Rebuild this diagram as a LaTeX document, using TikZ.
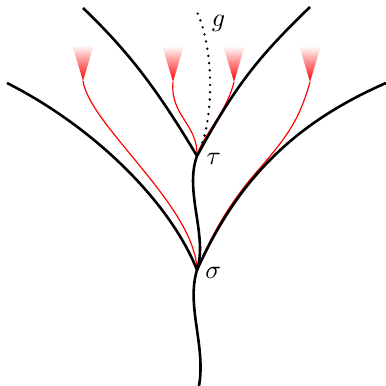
\documentclass[tikz,border=0pt]{standalone}
\usetikzlibrary{positioning}
\begin{document}
\begin{tikzpicture}[x=0.0135cm,y=0.0135cm,
      branch/.style={line width=1pt,draw=black},
      flow/.style={line width=0.45pt,draw=red},
      cone/.style={top color=red!3,bottom color=red,draw=none},
      gline/.style={line width=1pt,dash pattern=on 0pt off 2.8pt,line cap=round},
      lbl/.style={inner sep=1pt}
    ]
    \useasboundingbox (0,0) rectangle (386,386);
    \coordinate (root) at (199,0);
    \coordinate (sigma) at (197,116);
    \coordinate (tau) at (197,230);
    \coordinate (lo) at (7,303);
    \coordinate (ro) at (386,303);
    \coordinate (li) at (83,378);
    \coordinate (ri) at (310,379);
    \coordinate (gtop) at (197,374);
    \coordinate (c1) at (83,305);
    \coordinate (c2) at (173,304);
    \coordinate (c3) at (234,304);
    \coordinate (c4) at (310,304);
    \coordinate (merge) at (253.5,210.4);
    \draw[flow] (c1) .. controls (90,260) and (195,180) .. (sigma);
    \draw[flow] (c2) .. controls (170,270) and (198,262) .. (tau);
    \draw[flow] (c3) .. controls (226,272) and (202,250) .. (tau);
    \draw[flow] (c4) .. controls (298,261) and (283,245) .. (merge)
                     .. controls (231,184) and (212,153) .. (sigma);
    \foreach \c in {c1,c2,c3,c4}
      \shade[cone] (\c) -- ++(-10.5,35) -- ++(21,0) -- cycle;
    \draw[branch] (root) .. controls (206,40) and (186,80) .. (sigma);
    \draw[branch] (sigma) .. controls (208,150) and (184,195) .. (tau);
    \draw[branch] (sigma) .. controls (170,184) and (94,259) .. (lo);
    \draw[branch] (sigma) .. controls (238,207) and (294.5,263) .. (ro);
    \draw[branch] (tau) .. controls (157,297) and (128.6,334.3) .. (li);
    \draw[branch] (tau) .. controls (234,298) and (257,328) .. (ri);
    \draw[gline] (tau) .. controls (214,262) and (215,335) .. (gtop);
    \node[lbl,right=2pt of sigma,yshift=-1pt] (slabel) {$\sigma$};
    \node[lbl,right=2.5pt of tau,yshift=-1pt] (tlabel) {$\tau$};
    \node[lbl] (glabel) at (218.5,363) {$g$};
  \end{tikzpicture}
\end{document}
